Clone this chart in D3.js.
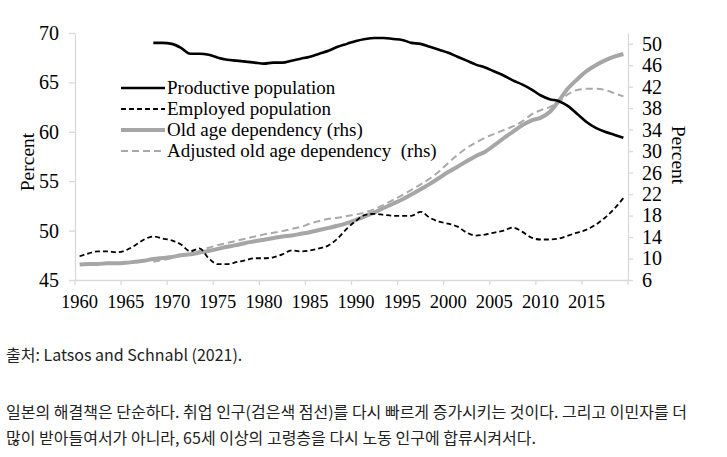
<!DOCTYPE html>
<html><head><meta charset="utf-8">
<script src="https://cdn.jsdelivr.net/npm/d3@7"></script>
<style>
body{margin:0;background:#fff;}
svg text.serif{font-family:"Liberation Serif","Times New Roman",serif;fill:#000;}
</style></head>
<body><svg id="c" width="727" height="457"></svg>
<script>
const years = d3.range(1960, 2020);
const prodYears = d3.range(1968, 2020);
const productive = [69.0,69.0,68.9,68.5,67.9,67.9,67.8,67.5,67.3,67.2,67.1,67.0,66.9,67.0,67.0,67.2,67.4,67.6,67.9,68.2,68.6,68.9,69.2,69.4,69.5,69.5,69.4,69.3,69.0,68.9,68.6,68.3,68.0,67.6,67.2,66.8,66.5,66.1,65.7,65.2,64.8,64.3,63.7,63.3,63.1,62.6,61.8,61.0,60.4,60.0,59.7,59.4];
const employed = [47.4,47.7,47.9,47.9,47.8,48.0,48.5,49.1,49.4,49.2,49.0,48.6,47.9,48.2,47.2,46.6,46.6,46.8,47.0,47.2,47.2,47.3,47.6,48.0,47.9,48.0,48.2,48.5,49.2,50.2,51.0,51.6,51.7,51.6,51.5,51.5,51.5,51.9,51.3,50.9,50.7,50.4,49.8,49.5,49.6,49.8,50.0,50.3,49.9,49.3,49.1,49.1,49.2,49.5,49.8,50.1,50.6,51.3,52.2,53.3];
const oldAge = [8.9,9.0,9.0,9.1,9.1,9.2,9.4,9.6,9.9,10.1,10.3,10.6,10.8,11.1,11.4,11.8,12.2,12.5,12.9,13.2,13.5,13.8,14.1,14.3,14.6,14.9,15.3,15.7,16.1,16.6,17.2,17.9,18.6,19.4,20.2,21.0,21.9,22.9,23.9,25.0,26.1,27.1,28.1,29.1,29.9,31.1,32.4,33.6,34.8,35.7,36.2,37.3,39.4,41.7,43.4,44.9,46.0,46.9,47.6,48.1];
const adjYears = d3.range(1968, 2020);
const adjusted = [9.4,9.7,10.1,10.5,10.9,11.4,12.0,12.5,12.9,13.3,13.7,14.1,14.5,14.8,15.1,15.5,15.9,16.5,17.0,17.4,17.6,17.9,18.2,18.6,19.2,20.0,20.9,21.8,22.8,23.8,24.9,26.2,27.8,29.3,30.6,31.6,32.5,33.2,33.9,34.6,35.5,36.8,37.6,38.2,39.2,40.6,41.4,41.6,41.6,41.4,40.8,40.2];
const xLabels = d3.range(1960, 2020, 5);
const leftTicks = [45,50,55,60,65,70];
const rightTicks = d3.range(6, 51, 4);
const legendLabels = ["Productive population","Employed population","Old age dependency (rhs)","Adjusted old age dependency  (rhs)"];
const caption = "출처: Latsos and Schnabl (2021).";
const bodyLines = ["일본의 해결책은 단순하다. 취업 인구(검은색 점선)를 다시 빠르게 증가시키는 것이다. 그리고 이민자를 더","많이 받아들여서가 아니라, 65세 이상의 고령층을 다시 노동 인구에 합류시켜서다."];

const svg = d3.select("#c");
const L = 75, R = 628, T = 33, B = 280;
const x = d3.scaleBand().domain(years).range([L, R]).padding(0);
const cx = d => x(d) + x.bandwidth()/2;
const yL = d3.scaleLinear().domain([45,70]).range([B, T]);
const yR = d3.scaleLinear().domain([6,52]).range([B, T]);
const axisCol = "#d9d9d9";

const gl = svg.append("g").attr("transform", `translate(${L},0)`)
  .call(d3.axisLeft(yL).tickValues(leftTicks).tickSize(6).tickSizeOuter(0).tickPadding(10));
const gr = svg.append("g").attr("transform", `translate(${R},0)`)
  .call(d3.axisRight(yR).tickValues(rightTicks).tickSize(5).tickSizeOuter(0).tickPadding(9));
const gb = svg.append("g").attr("transform", `translate(0,${B})`)
  .call(d3.axisBottom(x).tickValues(xLabels).tickSize(0).tickSizeOuter(0).tickPadding(15));
[gl, gr, gb].forEach(g => {
  g.selectAll("path.domain").attr("stroke", axisCol).attr("stroke-width", 1.3);
  g.selectAll(".tick line").attr("stroke", axisCol).attr("stroke-width", 1.3);
  g.selectAll("text").attr("class","serif").attr("fill","#000")
    .style("font-family",'"Liberation Serif","Times New Roman",serif').style("font-size","20px");
});
gb.selectAll("text").style("font-size","18.5px");
svg.append("g").selectAll("line").data(xLabels.concat([2020])).join("line")
  .attr("x1", d => d === 2020 ? x.range()[1] : x(d)).attr("x2", d => d === 2020 ? x.range()[1] : x(d))
  .attr("y1", B).attr("y2", B + 5).attr("stroke", axisCol).attr("stroke-width", 1.3);

svg.append("text").attr("class","serif").attr("transform","translate(34,162) rotate(-90)")
  .attr("text-anchor","middle").style("font-size","19.5px").text("Percent");
svg.append("text").attr("class","serif").attr("transform","translate(672,155) rotate(90)")
  .attr("text-anchor","middle").style("font-size","19.5px").text("Percent");

const series = [
  {xs: prodYears, v: productive, y: yL, color:"#000", w:2.6, dash:null},
  {xs: years, v: employed, y: yL, color:"#000", w:1.8, dash:"5,3"},
  {xs: years, v: oldAge, y: yR, color:"#a6a6a6", w:4, dash:null},
  {xs: adjYears, v: adjusted, y: yR, color:"#a9a9a9", w:2, dash:"7,4"}
];
const order = [2,3,1,0];
order.forEach(i => {
  const s = series[i];
  const line = d3.line().x((d,j) => cx(s.xs[j])).y(d => s.y(d)).curve(d3.curveMonotoneX);
  svg.append("path").datum(s.v).attr("d", line).attr("fill","none")
    .attr("stroke", s.color).attr("stroke-width", s.w)
    .attr("stroke-dasharray", s.dash).attr("stroke-linejoin","round");
});

const lg = svg.append("g");
legendLabels.forEach((t, i) => {
  const s = series[i];
  const yy = 88 + i*21;
  lg.append("line").attr("x1",121).attr("x2",165).attr("y1",yy).attr("y2",yy)
    .attr("stroke", s.color).attr("stroke-width", s.w).attr("stroke-dasharray", s.dash);
  lg.append("text").attr("class","serif").attr("x",167).attr("y",yy).attr("dy","0.33em")
    .style("font-size","19px").style("white-space","pre").attr("xml:space","preserve").text(t);
});

const ko = '"Noto Sans CJK KR","Noto Sans",sans-serif';
svg.append("text").attr("x",6).attr("y",361).style("font-family",ko).style("font-size","16px")
  .attr("fill","#222").text(caption);
bodyLines.forEach((t,i) => {
  svg.append("text").attr("x",6).attr("y",418 + i*26).style("font-family",ko).style("font-size","16px")
    .attr("fill","#222").text(t);
});
</script></body></html>
